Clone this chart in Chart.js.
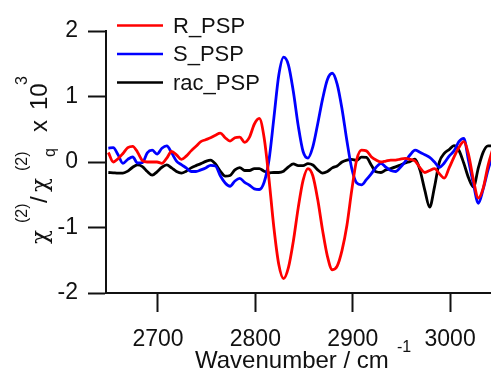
<!DOCTYPE html>
<html>
<head>
<meta charset="utf-8">
<script src="https://cdn.jsdelivr.net/npm/chart.js@4.4.1/dist/chart.umd.min.js"></script>
<style>
  html, body { margin: 0; padding: 0; background: #ffffff; }
  #wrap { width: 491px; height: 372px; }
</style>
</head>
<body>
<div id="wrap"><canvas id="c" width="491" height="372"></canvas></div>
<script>
// SFG spectra: chi(2) ratio (x 10^3) versus wavenumber (cm^-1)
const wavenumber = [2649,2654,2659,2664,2669,2674,2679,2684,2689,2694,2699,2704,2709,2714,2719,2724,2729,2734,2739,2744,
  2749,2754,2759,2764,2769,2774,2779,2784,2789,2794,2799,2804,2809,2814,2819,2824,2829,2834,2839,2844,
  2849,2854,2859,2864,2869,2874,2879,2884,2889,2894,2899,2904,2909,2914,2919,2924,2929,2934,2939,2944,
  2949,2954,2959,2964,2969,2974,2979,2984,2989,2994,2999,3004,3009,3014,3019,3024,3029,3034,3039,3044];

const rPSP = [0.145,0.0,0.05,0.13,0.22,0.24,0.15,0.02,0.0,0.0,0.0,-0.02,0.06,0.16,0.11,0.04,0.09,0.17,0.24,0.31,
  0.34,0.37,0.41,0.44,0.37,0.32,0.37,0.38,0.30,0.38,0.58,0.665,0.37,-0.26,-1.00,-1.56,-1.78,-1.61,-1.21,-0.70,
  -0.28,-0.10,-0.21,-0.57,-1.04,-1.44,-1.645,-1.59,-1.35,-0.97,-0.43,0.03,0.18,0.17,0.08,0.03,0.0,0.015,0.03,0.03,
  0.045,0.055,0.04,0.015,-0.085,-0.16,-0.13,-0.10,-0.18,-0.245,-0.09,0.075,0.22,0.31,0.11,-0.28,-0.55,-0.40,-0.05,0.21];

const sPSP = [0.21,0.22,0.11,-0.02,0.04,0.077,-0.015,-0.01,0.14,0.18,0.12,0.21,0.245,0.14,0.015,-0.04,-0.09,-0.145,-0.145,-0.12,
  -0.09,-0.05,-0.06,-0.21,-0.32,-0.37,-0.29,-0.25,-0.31,-0.355,-0.41,-0.42,-0.31,0.03,0.67,1.32,1.60,1.48,1.075,0.555,
  0.16,0.06,0.23,0.58,0.96,1.26,1.355,1.19,0.81,0.325,-0.10,-0.32,-0.35,-0.27,-0.18,-0.08,-0.02,-0.08,-0.13,-0.145,
  -0.08,0.01,0.11,0.18,0.15,0.11,0.07,0.0,-0.08,-0.015,0.09,0.17,0.31,0.36,0.015,-0.34,-0.63,-0.41,-0.12,0.11];

const racPSP = [-0.16,-0.165,-0.17,-0.17,-0.14,-0.08,-0.045,-0.07,-0.145,-0.20,-0.15,-0.08,-0.045,-0.09,-0.145,-0.17,-0.14,-0.09,-0.055,-0.025,
  0.01,0.03,-0.03,-0.14,-0.215,-0.205,-0.12,-0.085,-0.13,-0.13,-0.10,-0.10,-0.14,-0.165,-0.16,-0.16,-0.14,-0.075,-0.03,-0.055,
  -0.055,-0.025,-0.045,-0.12,-0.17,-0.145,-0.09,-0.06,0.0,0.03,0.04,0.025,0.075,0.07,-0.045,-0.15,-0.16,-0.12,-0.10,-0.075,
  -0.045,-0.015,0.01,0.045,-0.12,-0.43,-0.69,-0.38,0.0,0.13,0.19,0.25,0.18,-0.015,-0.245,-0.38,-0.09,0.15,0.245,0.245];

const seriesNames = ['R_PSP', 'S_PSP', 'rac_PSP'];
const seriesColors = ['#ff0000', '#0000ff', '#000000'];
const xTickValues = [2700, 2800, 2900, 3000];
const yTickValues = [-2, -1, 0, 1, 2];

const FONT = '"Liberation Sans", Arial, Helvetica, sans-serif';
const GREEK = '"DejaVu Serif", "Liberation Serif", serif';
const INK = '#111111';

function toPoints(values) {
  return wavenumber.map((w, i) => ({ x: w, y: values[i] }));
}

// Legend and axis titles (with super/subscripts) drawn on the canvas
const textPlugin = {
  id: 'textPlugin',
  afterDraw(chart) {
    const ctx = chart.ctx;
    ctx.save();
    ctx.fillStyle = INK;

    // legend
    const rows = [25.5, 54, 82.5];
    seriesNames.forEach((name, i) => {
      ctx.strokeStyle = seriesColors[i];
      ctx.lineWidth = 2.5;
      ctx.beginPath();
      ctx.moveTo(117, rows[i]);
      ctx.lineTo(163, rows[i]);
      ctx.stroke();
      ctx.font = '22px ' + FONT;
      ctx.textBaseline = 'middle';
      ctx.textAlign = 'left';
      ctx.fillStyle = INK;
      ctx.fillText(name, 173, rows[i] + 1);
    });

    // x title
    ctx.textBaseline = 'alphabetic';
    ctx.font = '24px ' + FONT;
    ctx.fillText('Wavenumber / cm', 195, 368);
    ctx.font = '16px ' + FONT;
    ctx.fillText('-1', 397, 352);

    // y title, rotated; local +x runs up the page
    ctx.translate(47, 244);
    ctx.rotate(-Math.PI / 2);
    const parts = [
      { t: '\u03C7', f: GREEK, s: 23, at: 0, dy: 0 },
      { t: '(2)', f: FONT, s: 16, at: 21, dy: -20 },
      { t: '/', f: FONT, s: 24, at: 41, dy: 0 },
      { t: '\u03C7', f: GREEK, s: 23, at: 52, dy: 0 },
      { t: '(2)', f: FONT, s: 16, at: 73, dy: -20 },
      { t: 'q', f: FONT, s: 16, at: 87, dy: 8 },
      { t: 'x', f: FONT, s: 24, at: 112, dy: 0 },
      { t: '10', f: FONT, s: 24, at: 134, dy: 0 },
      { t: '3', f: FONT, s: 16, at: 159, dy: -20 }
    ];
    parts.forEach(p => {
      ctx.font = p.s + 'px ' + p.f;
      ctx.fillText(p.t, p.at, p.dy);
    });
    ctx.restore();
  }
};

const axisStyle = {
  border: { display: true, color: INK, width: 2 },
  grid: { drawOnChartArea: false, drawTicks: true, tickColor: INK, tickWidth: 2 },
};

new Chart(document.getElementById('c'), {
  type: 'line',
  data: {
    datasets: [rPSP, sPSP, racPSP].map((vals, i) => ({
      label: seriesNames[i],
      data: toPoints(vals),
      borderColor: seriesColors[i],
      borderWidth: 2.8,
      pointRadius: 0,
      fill: false,
      cubicInterpolationMode: 'monotone'
    }))
  },
  options: {
    responsive: false,
    devicePixelRatio: 1,
    animation: false,
    layout: { padding: { top: 31, right: 0, bottom: 0, left: 0 } },
    plugins: { legend: { display: false }, tooltip: { enabled: false } },
    scales: {
      x: {
        type: 'linear',
        min: 2646.6,
        max: 3042,
        border: axisStyle.border,
        grid: Object.assign({}, axisStyle.grid, { tickLength: 19 }),
        ticks: { color: INK, font: { family: FONT, size: 23 }, padding: 14, maxRotation: 0, autoSkip: false,
                 callback: v => String(v) },
        afterBuildTicks: s => { s.ticks = xTickValues.map(v => ({ value: v })); },
        afterFit: s => { s.height = 79; }
      },
      y: {
        min: -2,
        max: 2,
        border: axisStyle.border,
        grid: Object.assign({}, axisStyle.grid, { tickLength: 18 }),
        ticks: { color: INK, font: { family: FONT, size: 23 }, padding: 10, callback: v => String(v) },
        afterBuildTicks: s => { s.ticks = yTickValues.map(v => ({ value: v })); },
        afterFit: s => { s.width = 106; }
      }
    }
  },
  plugins: [textPlugin]
});
</script>
</body>
</html>
